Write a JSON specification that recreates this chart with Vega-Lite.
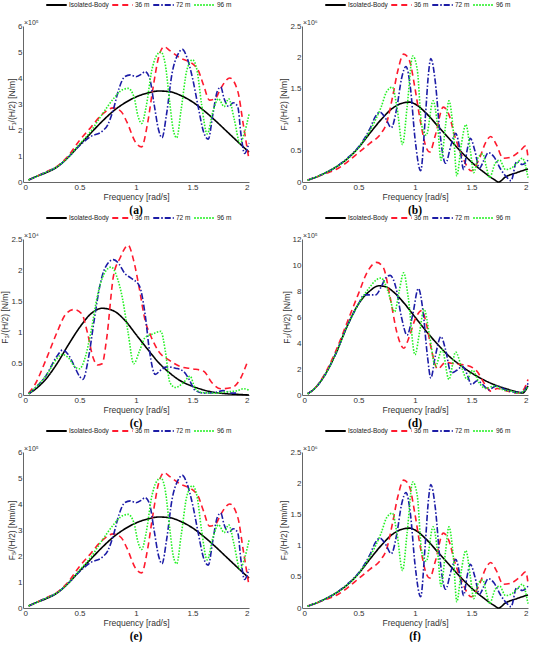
{
  "$schema": "https://vega.github.io/schema/vega-lite/v6.json",
  "padding": {"left": 0, "top": 0, "right": 0, "bottom": 0},
  "background": "white",
  "config": {
    "view": {"stroke": null},
    "font": "Liberation Sans",
    "axis": {"labelFontSize": 8, "titleFontSize": 8.5, "labelColor": "#333", "titleColor": "#333", "domainColor": "#666", "tickColor": "#666", "tickSize": 0, "grid": false, "titleFontWeight": "normal", "labelPadding": 1, "titlePadding": 1, "labelOverlap": false, "tickCount": 12},
    "legend": {"orient": "none", "legendX": 22, "legendY": -26, "direction": "horizontal", "labelFontSize": 6.5, "symbolType": "stroke", "symbolSize": 420, "symbolStrokeWidth": 1.8, "labelOffset": 1, "columnPadding": 2, "labelColor": "#222", "clipHeight": 10},
    "title": {"font": "Liberation Serif", "fontSize": 11.5, "fontWeight": "bold", "offset": 0, "color": "#000"}
  },
  "datasets": {
    "a": [
      {"s":"Isolated-Body","f":0.05,"v":0.08},{"s":"Isolated-Body","f":0.1,"v":0.18},{"s":"Isolated-Body","f":0.2,"v":0.35},{"s":"Isolated-Body","f":0.3,"v":0.57},{"s":"Isolated-Body","f":0.4,"v":0.95},{"s":"Isolated-Body","f":0.5,"v":1.42},{"s":"Isolated-Body","f":0.6,"v":1.88},{"s":"Isolated-Body","f":0.7,"v":2.33},{"s":"Isolated-Body","f":0.8,"v":2.73},{"s":"Isolated-Body","f":0.9,"v":3.04},{"s":"Isolated-Body","f":1.0,"v":3.27},{"s":"Isolated-Body","f":1.1,"v":3.42},{"s":"Isolated-Body","f":1.2,"v":3.5},{"s":"Isolated-Body","f":1.3,"v":3.47},{"s":"Isolated-Body","f":1.4,"v":3.32},{"s":"Isolated-Body","f":1.5,"v":3.08},{"s":"Isolated-Body","f":1.6,"v":2.75},{"s":"Isolated-Body","f":1.7,"v":2.37},{"s":"Isolated-Body","f":1.8,"v":1.96},{"s":"Isolated-Body","f":1.9,"v":1.55},{"s":"Isolated-Body","f":2.0,"v":1.15},
      {"s":"36 m","f":0.05,"v":0.08},{"s":"36 m","f":0.2,"v":0.38},{"s":"36 m","f":0.3,"v":0.6},{"s":"36 m","f":0.4,"v":1.0},{"s":"36 m","f":0.5,"v":1.6},{"s":"36 m","f":0.6,"v":2.1},{"s":"36 m","f":0.7,"v":2.6},{"s":"36 m","f":0.8,"v":2.85},{"s":"36 m","f":0.87,"v":2.7},{"s":"36 m","f":0.92,"v":2.3},{"s":"36 m","f":1.0,"v":1.5},{"s":"36 m","f":1.05,"v":1.35},{"s":"36 m","f":1.1,"v":2.2},{"s":"36 m","f":1.15,"v":3.6},{"s":"36 m","f":1.2,"v":4.8},{"s":"36 m","f":1.25,"v":5.2},{"s":"36 m","f":1.3,"v":5.05},{"s":"36 m","f":1.4,"v":4.75},{"s":"36 m","f":1.5,"v":4.55},{"s":"36 m","f":1.55,"v":4.3},{"s":"36 m","f":1.6,"v":3.7},{"s":"36 m","f":1.65,"v":3.15},{"s":"36 m","f":1.7,"v":3.2},{"s":"36 m","f":1.75,"v":3.6},{"s":"36 m","f":1.83,"v":4.0},{"s":"36 m","f":1.9,"v":3.5},{"s":"36 m","f":1.95,"v":2.2},{"s":"36 m","f":2.0,"v":0.85},
      {"s":"72 m","f":0.05,"v":0.08},{"s":"72 m","f":0.2,"v":0.37},{"s":"72 m","f":0.3,"v":0.58},{"s":"72 m","f":0.4,"v":0.95},{"s":"72 m","f":0.5,"v":1.4},{"s":"72 m","f":0.6,"v":1.75},{"s":"72 m","f":0.7,"v":1.95},{"s":"72 m","f":0.75,"v":2.2},{"s":"72 m","f":0.8,"v":2.8},{"s":"72 m","f":0.85,"v":3.6},{"s":"72 m","f":0.9,"v":4.05},{"s":"72 m","f":0.95,"v":4.12},{"s":"72 m","f":1.0,"v":4.05},{"s":"72 m","f":1.05,"v":4.15},{"s":"72 m","f":1.08,"v":4.25},{"s":"72 m","f":1.12,"v":4.0},{"s":"72 m","f":1.16,"v":3.0},{"s":"72 m","f":1.2,"v":2.0},{"s":"72 m","f":1.23,"v":1.7},{"s":"72 m","f":1.27,"v":2.6},{"s":"72 m","f":1.32,"v":4.2},{"s":"72 m","f":1.37,"v":4.9},{"s":"72 m","f":1.41,"v":5.1},{"s":"72 m","f":1.45,"v":4.8},{"s":"72 m","f":1.5,"v":4.0},{"s":"72 m","f":1.55,"v":2.9},{"s":"72 m","f":1.6,"v":1.9},{"s":"72 m","f":1.64,"v":1.65},{"s":"72 m","f":1.68,"v":2.6},{"s":"72 m","f":1.72,"v":3.5},{"s":"72 m","f":1.75,"v":3.65},{"s":"72 m","f":1.78,"v":3.2},{"s":"72 m","f":1.82,"v":2.9},{"s":"72 m","f":1.86,"v":3.05},{"s":"72 m","f":1.9,"v":2.9},{"s":"72 m","f":1.93,"v":1.8},{"s":"72 m","f":1.96,"v":1.1},{"s":"72 m","f":2.0,"v":1.5},
      {"s":"96 m","f":0.05,"v":0.08},{"s":"96 m","f":0.2,"v":0.37},{"s":"96 m","f":0.3,"v":0.58},{"s":"96 m","f":0.4,"v":0.95},{"s":"96 m","f":0.5,"v":1.45},{"s":"96 m","f":0.6,"v":1.95},{"s":"96 m","f":0.7,"v":2.6},{"s":"96 m","f":0.8,"v":3.2},{"s":"96 m","f":0.88,"v":3.55},{"s":"96 m","f":0.93,"v":3.6},{"s":"96 m","f":0.98,"v":3.3},{"s":"96 m","f":1.02,"v":2.5},{"s":"96 m","f":1.05,"v":2.25},{"s":"96 m","f":1.09,"v":2.9},{"s":"96 m","f":1.14,"v":4.3},{"s":"96 m","f":1.18,"v":4.85},{"s":"96 m","f":1.22,"v":5.0},{"s":"96 m","f":1.26,"v":4.5},{"s":"96 m","f":1.3,"v":3.0},{"s":"96 m","f":1.33,"v":2.0},{"s":"96 m","f":1.36,"v":1.7},{"s":"96 m","f":1.4,"v":2.8},{"s":"96 m","f":1.45,"v":4.3},{"s":"96 m","f":1.5,"v":4.7},{"s":"96 m","f":1.54,"v":4.3},{"s":"96 m","f":1.58,"v":3.0},{"s":"96 m","f":1.63,"v":1.85},{"s":"96 m","f":1.68,"v":2.7},{"s":"96 m","f":1.73,"v":3.2},{"s":"96 m","f":1.78,"v":2.9},{"s":"96 m","f":1.82,"v":3.2},{"s":"96 m","f":1.87,"v":2.4},{"s":"96 m","f":1.92,"v":1.5},{"s":"96 m","f":1.96,"v":1.9},{"s":"96 m","f":2.0,"v":2.6}
    ],
    "b": [
      {"s":"Isolated-Body","f":0.05,"v":0.03},{"s":"Isolated-Body","f":0.1,"v":0.06},{"s":"Isolated-Body","f":0.2,"v":0.14},{"s":"Isolated-Body","f":0.3,"v":0.24},{"s":"Isolated-Body","f":0.4,"v":0.37},{"s":"Isolated-Body","f":0.5,"v":0.55},{"s":"Isolated-Body","f":0.6,"v":0.78},{"s":"Isolated-Body","f":0.7,"v":1.0},{"s":"Isolated-Body","f":0.8,"v":1.18},{"s":"Isolated-Body","f":0.9,"v":1.27},{"s":"Isolated-Body","f":0.95,"v":1.28},{"s":"Isolated-Body","f":1.0,"v":1.25},{"s":"Isolated-Body","f":1.1,"v":1.1},{"s":"Isolated-Body","f":1.2,"v":0.9},{"s":"Isolated-Body","f":1.3,"v":0.7},{"s":"Isolated-Body","f":1.4,"v":0.5},{"s":"Isolated-Body","f":1.5,"v":0.32},{"s":"Isolated-Body","f":1.6,"v":0.17},{"s":"Isolated-Body","f":1.7,"v":0.04},{"s":"Isolated-Body","f":1.74,"v":0.0},{"s":"Isolated-Body","f":1.8,"v":0.08},{"s":"Isolated-Body","f":1.9,"v":0.15},{"s":"Isolated-Body","f":2.0,"v":0.21},
      {"s":"36 m","f":0.05,"v":0.03},{"s":"36 m","f":0.2,"v":0.13},{"s":"36 m","f":0.3,"v":0.2},{"s":"36 m","f":0.4,"v":0.32},{"s":"36 m","f":0.5,"v":0.47},{"s":"36 m","f":0.6,"v":0.62},{"s":"36 m","f":0.7,"v":0.78},{"s":"36 m","f":0.75,"v":0.95},{"s":"36 m","f":0.8,"v":1.35},{"s":"36 m","f":0.85,"v":1.8},{"s":"36 m","f":0.9,"v":2.05},{"s":"36 m","f":0.95,"v":1.95},{"s":"36 m","f":1.0,"v":1.5},{"s":"36 m","f":1.05,"v":0.95},{"s":"36 m","f":1.1,"v":0.55},{"s":"36 m","f":1.13,"v":0.48},{"s":"36 m","f":1.18,"v":0.75},{"s":"36 m","f":1.25,"v":1.2},{"s":"36 m","f":1.3,"v":1.08},{"s":"36 m","f":1.35,"v":0.75},{"s":"36 m","f":1.42,"v":0.4},{"s":"36 m","f":1.5,"v":0.18},{"s":"36 m","f":1.57,"v":0.38},{"s":"36 m","f":1.63,"v":0.65},{"s":"36 m","f":1.67,"v":0.73},{"s":"36 m","f":1.72,"v":0.6},{"s":"36 m","f":1.78,"v":0.38},{"s":"36 m","f":1.85,"v":0.4},{"s":"36 m","f":1.93,"v":0.5},{"s":"36 m","f":1.98,"v":0.58},{"s":"36 m","f":2.0,"v":0.4},
      {"s":"72 m","f":0.05,"v":0.03},{"s":"72 m","f":0.2,"v":0.14},{"s":"72 m","f":0.3,"v":0.24},{"s":"72 m","f":0.4,"v":0.38},{"s":"72 m","f":0.5,"v":0.56},{"s":"72 m","f":0.6,"v":0.85},{"s":"72 m","f":0.65,"v":1.05},{"s":"72 m","f":0.69,"v":1.12},{"s":"72 m","f":0.74,"v":1.02},{"s":"72 m","f":0.79,"v":0.87},{"s":"72 m","f":0.84,"v":1.2},{"s":"72 m","f":0.88,"v":1.65},{"s":"72 m","f":0.92,"v":1.85},{"s":"72 m","f":0.96,"v":1.5},{"s":"72 m","f":1.0,"v":0.7},{"s":"72 m","f":1.05,"v":0.18},{"s":"72 m","f":1.09,"v":1.0},{"s":"72 m","f":1.12,"v":1.75},{"s":"72 m","f":1.14,"v":1.98},{"s":"72 m","f":1.18,"v":1.6},{"s":"72 m","f":1.22,"v":0.8},{"s":"72 m","f":1.27,"v":0.3},{"s":"72 m","f":1.32,"v":0.6},{"s":"72 m","f":1.36,"v":0.78},{"s":"72 m","f":1.4,"v":0.5},{"s":"72 m","f":1.43,"v":0.2},{"s":"72 m","f":1.46,"v":0.5},{"s":"72 m","f":1.49,"v":0.7},{"s":"72 m","f":1.53,"v":0.5},{"s":"72 m","f":1.57,"v":0.22},{"s":"72 m","f":1.61,"v":0.35},{"s":"72 m","f":1.65,"v":0.47},{"s":"72 m","f":1.7,"v":0.4},{"s":"72 m","f":1.76,"v":0.2},{"s":"72 m","f":1.81,"v":0.08},{"s":"72 m","f":1.85,"v":0.02},{"s":"72 m","f":1.9,"v":0.33},{"s":"72 m","f":1.95,"v":0.28},{"s":"72 m","f":2.0,"v":0.35},
      {"s":"96 m","f":0.05,"v":0.03},{"s":"96 m","f":0.2,"v":0.14},{"s":"96 m","f":0.3,"v":0.24},{"s":"96 m","f":0.4,"v":0.37},{"s":"96 m","f":0.5,"v":0.55},{"s":"96 m","f":0.6,"v":0.82},{"s":"96 m","f":0.7,"v":1.2},{"s":"96 m","f":0.75,"v":1.45},{"s":"96 m","f":0.8,"v":1.52},{"s":"96 m","f":0.84,"v":1.2},{"s":"96 m","f":0.89,"v":0.6},{"s":"96 m","f":0.93,"v":1.2},{"s":"96 m","f":0.98,"v":2.02},{"s":"96 m","f":1.02,"v":1.8},{"s":"96 m","f":1.06,"v":0.9},{"s":"96 m","f":1.1,"v":0.75},{"s":"96 m","f":1.16,"v":1.3},{"s":"96 m","f":1.2,"v":0.9},{"s":"96 m","f":1.23,"v":0.35},{"s":"96 m","f":1.27,"v":0.9},{"s":"96 m","f":1.3,"v":1.3},{"s":"96 m","f":1.34,"v":0.8},{"s":"96 m","f":1.37,"v":0.1},{"s":"96 m","f":1.41,"v":0.6},{"s":"96 m","f":1.45,"v":0.92},{"s":"96 m","f":1.49,"v":0.5},{"s":"96 m","f":1.52,"v":0.15},{"s":"96 m","f":1.56,"v":0.4},{"s":"96 m","f":1.6,"v":0.45},{"s":"96 m","f":1.63,"v":0.25},{"s":"96 m","f":1.66,"v":0.07},{"s":"96 m","f":1.71,"v":0.3},{"s":"96 m","f":1.75,"v":0.35},{"s":"96 m","f":1.8,"v":0.2},{"s":"96 m","f":1.85,"v":0.22},{"s":"96 m","f":1.9,"v":0.3},{"s":"96 m","f":1.95,"v":0.38},{"s":"96 m","f":2.0,"v":0.07}
    ],
    "c": [
      {"s":"Isolated-Body","f":0.05,"v":0.02},{"s":"Isolated-Body","f":0.1,"v":0.08},{"s":"Isolated-Body","f":0.2,"v":0.25},{"s":"Isolated-Body","f":0.3,"v":0.5},{"s":"Isolated-Body","f":0.4,"v":0.8},{"s":"Isolated-Body","f":0.5,"v":1.08},{"s":"Isolated-Body","f":0.6,"v":1.3},{"s":"Isolated-Body","f":0.7,"v":1.39},{"s":"Isolated-Body","f":0.8,"v":1.35},{"s":"Isolated-Body","f":0.9,"v":1.2},{"s":"Isolated-Body","f":1.0,"v":0.97},{"s":"Isolated-Body","f":1.1,"v":0.74},{"s":"Isolated-Body","f":1.2,"v":0.52},{"s":"Isolated-Body","f":1.3,"v":0.35},{"s":"Isolated-Body","f":1.4,"v":0.22},{"s":"Isolated-Body","f":1.5,"v":0.14},{"s":"Isolated-Body","f":1.6,"v":0.08},{"s":"Isolated-Body","f":1.7,"v":0.04},{"s":"Isolated-Body","f":1.8,"v":0.02},{"s":"Isolated-Body","f":1.9,"v":0.01},{"s":"Isolated-Body","f":2.0,"v":0.0},
      {"s":"36 m","f":0.05,"v":0.03},{"s":"36 m","f":0.1,"v":0.15},{"s":"36 m","f":0.2,"v":0.55},{"s":"36 m","f":0.3,"v":1.0},{"s":"36 m","f":0.38,"v":1.3},{"s":"36 m","f":0.45,"v":1.37},{"s":"36 m","f":0.52,"v":1.3},{"s":"36 m","f":0.57,"v":1.0},{"s":"36 m","f":0.62,"v":0.6},{"s":"36 m","f":0.66,"v":0.48},{"s":"36 m","f":0.7,"v":0.5},{"s":"36 m","f":0.74,"v":0.9},{"s":"36 m","f":0.8,"v":1.9},{"s":"36 m","f":0.86,"v":2.2},{"s":"36 m","f":0.93,"v":2.4},{"s":"36 m","f":0.98,"v":2.15},{"s":"36 m","f":1.03,"v":1.7},{"s":"36 m","f":1.08,"v":1.2},{"s":"36 m","f":1.13,"v":0.95},{"s":"36 m","f":1.2,"v":0.7},{"s":"36 m","f":1.3,"v":0.55},{"s":"36 m","f":1.4,"v":0.45},{"s":"36 m","f":1.5,"v":0.42},{"s":"36 m","f":1.6,"v":0.38},{"s":"36 m","f":1.67,"v":0.2},{"s":"36 m","f":1.75,"v":0.1},{"s":"36 m","f":1.85,"v":0.12},{"s":"36 m","f":1.92,"v":0.25},{"s":"36 m","f":1.98,"v":0.5},
      {"s":"72 m","f":0.05,"v":0.02},{"s":"72 m","f":0.1,"v":0.1},{"s":"72 m","f":0.2,"v":0.3},{"s":"72 m","f":0.3,"v":0.62},{"s":"72 m","f":0.35,"v":0.72},{"s":"72 m","f":0.4,"v":0.65},{"s":"72 m","f":0.45,"v":0.48},{"s":"72 m","f":0.5,"v":0.3},{"s":"72 m","f":0.53,"v":0.25},{"s":"72 m","f":0.58,"v":0.6},{"s":"72 m","f":0.63,"v":1.2},{"s":"72 m","f":0.68,"v":1.75},{"s":"72 m","f":0.73,"v":2.05},{"s":"72 m","f":0.8,"v":2.17},{"s":"72 m","f":0.85,"v":2.1},{"s":"72 m","f":0.9,"v":1.95},{"s":"72 m","f":0.95,"v":1.88},{"s":"72 m","f":1.03,"v":1.75},{"s":"72 m","f":1.08,"v":1.3},{"s":"72 m","f":1.12,"v":0.7},{"s":"72 m","f":1.17,"v":0.33},{"s":"72 m","f":1.22,"v":0.4},{"s":"72 m","f":1.27,"v":0.45},{"s":"72 m","f":1.35,"v":0.43},{"s":"72 m","f":1.42,"v":0.38},{"s":"72 m","f":1.47,"v":0.25},{"s":"72 m","f":1.52,"v":0.08},{"s":"72 m","f":1.6,"v":0.03},{"s":"72 m","f":1.7,"v":0.04},{"s":"72 m","f":1.77,"v":0.07},{"s":"72 m","f":1.85,"v":0.03},{"s":"72 m","f":1.9,"v":0.03},
      {"s":"96 m","f":0.05,"v":0.02},{"s":"96 m","f":0.1,"v":0.1},{"s":"96 m","f":0.2,"v":0.3},{"s":"96 m","f":0.3,"v":0.58},{"s":"96 m","f":0.34,"v":0.65},{"s":"96 m","f":0.4,"v":0.6},{"s":"96 m","f":0.46,"v":0.45},{"s":"96 m","f":0.5,"v":0.42},{"s":"96 m","f":0.55,"v":0.6},{"s":"96 m","f":0.6,"v":1.0},{"s":"96 m","f":0.66,"v":1.6},{"s":"96 m","f":0.72,"v":1.95},{"s":"96 m","f":0.78,"v":2.05},{"s":"96 m","f":0.83,"v":1.9},{"s":"96 m","f":0.88,"v":1.55},{"s":"96 m","f":0.93,"v":1.0},{"s":"96 m","f":0.98,"v":0.5},{"s":"96 m","f":1.03,"v":0.7},{"s":"96 m","f":1.08,"v":0.92},{"s":"96 m","f":1.15,"v":0.98},{"s":"96 m","f":1.22,"v":1.02},{"s":"96 m","f":1.26,"v":0.7},{"s":"96 m","f":1.3,"v":0.2},{"s":"96 m","f":1.35,"v":0.12},{"s":"96 m","f":1.42,"v":0.2},{"s":"96 m","f":1.48,"v":0.3},{"s":"96 m","f":1.52,"v":0.12},{"s":"96 m","f":1.58,"v":0.04},{"s":"96 m","f":1.7,"v":0.03},{"s":"96 m","f":1.8,"v":0.05},{"s":"96 m","f":1.9,"v":0.07},{"s":"96 m","f":1.95,"v":0.1},{"s":"96 m","f":2.0,"v":0.08}
    ],
    "d": [
      {"s":"Isolated-Body","f":0.05,"v":0.1},{"s":"Isolated-Body","f":0.1,"v":0.4},{"s":"Isolated-Body","f":0.2,"v":1.5},{"s":"Isolated-Body","f":0.3,"v":3.2},{"s":"Isolated-Body","f":0.4,"v":5.3},{"s":"Isolated-Body","f":0.5,"v":7.0},{"s":"Isolated-Body","f":0.6,"v":8.0},{"s":"Isolated-Body","f":0.68,"v":8.4},{"s":"Isolated-Body","f":0.75,"v":8.3},{"s":"Isolated-Body","f":0.8,"v":8.0},{"s":"Isolated-Body","f":0.9,"v":7.1},{"s":"Isolated-Body","f":1.0,"v":6.0},{"s":"Isolated-Body","f":1.1,"v":4.9},{"s":"Isolated-Body","f":1.2,"v":3.9},{"s":"Isolated-Body","f":1.3,"v":3.0},{"s":"Isolated-Body","f":1.4,"v":2.3},{"s":"Isolated-Body","f":1.5,"v":1.7},{"s":"Isolated-Body","f":1.6,"v":1.2},{"s":"Isolated-Body","f":1.7,"v":0.8},{"s":"Isolated-Body","f":1.8,"v":0.5},{"s":"Isolated-Body","f":1.9,"v":0.25},{"s":"Isolated-Body","f":1.95,"v":0.15},{"s":"Isolated-Body","f":2.0,"v":0.7},
      {"s":"36 m","f":0.05,"v":0.1},{"s":"36 m","f":0.1,"v":0.4},{"s":"36 m","f":0.2,"v":1.6},{"s":"36 m","f":0.3,"v":3.4},{"s":"36 m","f":0.4,"v":5.6},{"s":"36 m","f":0.5,"v":7.8},{"s":"36 m","f":0.58,"v":9.5},{"s":"36 m","f":0.66,"v":10.2},{"s":"36 m","f":0.72,"v":9.8},{"s":"36 m","f":0.78,"v":7.5},{"s":"36 m","f":0.84,"v":4.8},{"s":"36 m","f":0.9,"v":3.6},{"s":"36 m","f":0.95,"v":4.5},{"s":"36 m","f":1.0,"v":5.8},{"s":"36 m","f":1.06,"v":6.5},{"s":"36 m","f":1.1,"v":5.5},{"s":"36 m","f":1.15,"v":3.3},{"s":"36 m","f":1.2,"v":2.0},{"s":"36 m","f":1.27,"v":2.5},{"s":"36 m","f":1.35,"v":2.4},{"s":"36 m","f":1.45,"v":2.3},{"s":"36 m","f":1.55,"v":1.8},{"s":"36 m","f":1.62,"v":0.8},{"s":"36 m","f":1.67,"v":0.3},{"s":"36 m","f":1.73,"v":0.5},{"s":"36 m","f":1.8,"v":0.35},{"s":"36 m","f":1.9,"v":0.15},{"s":"36 m","f":1.95,"v":0.3},{"s":"36 m","f":2.0,"v":1.2},
      {"s":"72 m","f":0.05,"v":0.1},{"s":"72 m","f":0.1,"v":0.4},{"s":"72 m","f":0.2,"v":1.5},{"s":"72 m","f":0.3,"v":3.2},{"s":"72 m","f":0.4,"v":5.3},{"s":"72 m","f":0.5,"v":7.0},{"s":"72 m","f":0.55,"v":7.7},{"s":"72 m","f":0.6,"v":7.7},{"s":"72 m","f":0.65,"v":7.7},{"s":"72 m","f":0.7,"v":8.3},{"s":"72 m","f":0.74,"v":9.0},{"s":"72 m","f":0.78,"v":9.2},{"s":"72 m","f":0.83,"v":8.3},{"s":"72 m","f":0.88,"v":6.0},{"s":"72 m","f":0.93,"v":4.6},{"s":"72 m","f":0.98,"v":6.2},{"s":"72 m","f":1.03,"v":8.2},{"s":"72 m","f":1.07,"v":6.5},{"s":"72 m","f":1.11,"v":3.0},{"s":"72 m","f":1.14,"v":1.3},{"s":"72 m","f":1.18,"v":3.0},{"s":"72 m","f":1.23,"v":4.5},{"s":"72 m","f":1.27,"v":3.5},{"s":"72 m","f":1.32,"v":1.7},{"s":"72 m","f":1.37,"v":1.9},{"s":"72 m","f":1.42,"v":2.2},{"s":"72 m","f":1.46,"v":1.6},{"s":"72 m","f":1.5,"v":0.8},{"s":"72 m","f":1.55,"v":1.1},{"s":"72 m","f":1.6,"v":0.8},{"s":"72 m","f":1.65,"v":0.4},{"s":"72 m","f":1.72,"v":0.7},{"s":"72 m","f":1.8,"v":0.4},{"s":"72 m","f":1.9,"v":0.2},{"s":"72 m","f":1.95,"v":0.2},{"s":"72 m","f":2.0,"v":0.9},
      {"s":"96 m","f":0.05,"v":0.1},{"s":"96 m","f":0.1,"v":0.4},{"s":"96 m","f":0.2,"v":1.5},{"s":"96 m","f":0.3,"v":3.2},{"s":"96 m","f":0.4,"v":5.3},{"s":"96 m","f":0.5,"v":7.0},{"s":"96 m","f":0.6,"v":8.3},{"s":"96 m","f":0.65,"v":8.8},{"s":"96 m","f":0.7,"v":9.0},{"s":"96 m","f":0.76,"v":8.0},{"s":"96 m","f":0.82,"v":6.4},{"s":"96 m","f":0.86,"v":8.0},{"s":"96 m","f":0.9,"v":9.4},{"s":"96 m","f":0.94,"v":7.5},{"s":"96 m","f":1.0,"v":3.1},{"s":"96 m","f":1.04,"v":4.8},{"s":"96 m","f":1.08,"v":6.6},{"s":"96 m","f":1.13,"v":4.5},{"s":"96 m","f":1.18,"v":2.2},{"s":"96 m","f":1.24,"v":3.5},{"s":"96 m","f":1.3,"v":1.2},{"s":"96 m","f":1.36,"v":3.3},{"s":"96 m","f":1.41,"v":2.2},{"s":"96 m","f":1.46,"v":1.2},{"s":"96 m","f":1.51,"v":1.9},{"s":"96 m","f":1.57,"v":0.9},{"s":"96 m","f":1.63,"v":0.5},{"s":"96 m","f":1.7,"v":0.7},{"s":"96 m","f":1.78,"v":0.4},{"s":"96 m","f":1.85,"v":0.3},{"s":"96 m","f":1.92,"v":0.15},{"s":"96 m","f":2.0,"v":0.6}
    ]
  },
  "columns": 2,
  "spacing": {"row": -3, "column": 26},
  "resolve": {
    "scale": {"x": "independent", "y": "independent", "color": "independent", "strokeDash": "independent"},
    "legend": {"color": "independent", "strokeDash": "independent"}
  },
  "concat": [
    {
      "width": 226, "height": 156,
      "title": {"text": "(a)", "orient": "bottom"},
      "layer": [
        {"data": {"name": "a"},
         "mark": {"type": "line", "interpolate": "monotone", "strokeWidth": 1.6},
         "encoding": {
           "x": {"field": "f", "type": "quantitative", "scale": {"domain": [0, 2], "nice": false}, "axis": {"values": [0, 0.5, 1, 1.5, 2], "tickCount": 12, "format": "~g", "title": "Frequency [rad/s]"}},
           "y": {"field": "v", "type": "quantitative", "scale": {"domain": [0, 6], "nice": false}, "axis": {"values": [0, 1, 2, 3, 4, 5, 6], "tickCount": 12, "format": "~g", "title": "F₁/(H/2) [N/m]"}},
           "color": {"field": "s", "type": "nominal", "scale": {"domain": ["Isolated-Body", "36 m", "72 m", "96 m"], "range": ["#000000", "#ff1a2e", "#1c1ca6", "#22f022"]}, "legend": {"title": null}},
           "strokeDash": {"field": "s", "type": "nominal", "scale": {"domain": ["Isolated-Body", "36 m", "72 m", "96 m"], "range": [[1, 0], [6, 4], [6, 2, 1.5, 2], [1.5, 1.5]]}, "legend": {"title": null}}
         }},
        {"data": {"values": [{"f": 0, "v": 6, "t": "×10⁵"}]},
         "mark": {"type": "text", "align": "left", "baseline": "bottom", "dx": 1, "fontSize": 7, "color": "#333"},
         "encoding": {"x": {"field": "f", "type": "quantitative"}, "y": {"field": "v", "type": "quantitative"}, "text": {"field": "t"}}}
      ]
    },
    {
      "width": 226, "height": 156,
      "title": {"text": "(b)", "orient": "bottom"},
      "layer": [
        {"data": {"name": "b"},
         "mark": {"type": "line", "interpolate": "monotone", "strokeWidth": 1.6},
         "encoding": {
           "x": {"field": "f", "type": "quantitative", "scale": {"domain": [0, 2], "nice": false}, "axis": {"values": [0, 0.5, 1, 1.5, 2], "tickCount": 12, "format": "~g", "title": "Frequency [rad/s]"}},
           "y": {"field": "v", "type": "quantitative", "scale": {"domain": [0, 2.5], "nice": false}, "axis": {"values": [0, 0.5, 1, 1.5, 2, 2.5], "tickCount": 12, "format": "~g", "title": "F₁/(H/2) [N/m]"}},
           "color": {"field": "s", "type": "nominal", "scale": {"domain": ["Isolated-Body", "36 m", "72 m", "96 m"], "range": ["#000000", "#ff1a2e", "#1c1ca6", "#22f022"]}, "legend": {"title": null}},
           "strokeDash": {"field": "s", "type": "nominal", "scale": {"domain": ["Isolated-Body", "36 m", "72 m", "96 m"], "range": [[1, 0], [6, 4], [6, 2, 1.5, 2], [1.5, 1.5]]}, "legend": {"title": null}}
         }},
        {"data": {"values": [{"f": 0, "v": 2.5, "t": "×10⁶"}]},
         "mark": {"type": "text", "align": "left", "baseline": "bottom", "dx": 1, "fontSize": 7, "color": "#333"},
         "encoding": {"x": {"field": "f", "type": "quantitative"}, "y": {"field": "v", "type": "quantitative"}, "text": {"field": "t"}}}
      ]
    },
    {
      "width": 226, "height": 156,
      "title": {"text": "(c)", "orient": "bottom"},
      "layer": [
        {"data": {"name": "c"},
         "mark": {"type": "line", "interpolate": "monotone", "strokeWidth": 1.6},
         "encoding": {
           "x": {"field": "f", "type": "quantitative", "scale": {"domain": [0, 2], "nice": false}, "axis": {"values": [0, 0.5, 1, 1.5, 2], "tickCount": 12, "format": "~g", "title": "Frequency [rad/s]"}},
           "y": {"field": "v", "type": "quantitative", "scale": {"domain": [0, 2.5], "nice": false}, "axis": {"values": [0, 0.5, 1, 1.5, 2, 2.5], "tickCount": 12, "format": "~g", "title": "F₃/(H/2) [N/m]"}},
           "color": {"field": "s", "type": "nominal", "scale": {"domain": ["Isolated-Body", "36 m", "72 m", "96 m"], "range": ["#000000", "#ff1a2e", "#1c1ca6", "#22f022"]}, "legend": {"title": null}},
           "strokeDash": {"field": "s", "type": "nominal", "scale": {"domain": ["Isolated-Body", "36 m", "72 m", "96 m"], "range": [[1, 0], [6, 4], [6, 2, 1.5, 2], [1.5, 1.5]]}, "legend": {"title": null}}
         }},
        {"data": {"values": [{"f": 0, "v": 2.5, "t": "×10⁴"}]},
         "mark": {"type": "text", "align": "left", "baseline": "bottom", "dx": 1, "fontSize": 7, "color": "#333"},
         "encoding": {"x": {"field": "f", "type": "quantitative"}, "y": {"field": "v", "type": "quantitative"}, "text": {"field": "t"}}}
      ]
    },
    {
      "width": 226, "height": 156,
      "title": {"text": "(d)", "orient": "bottom"},
      "layer": [
        {"data": {"name": "d"},
         "mark": {"type": "line", "interpolate": "monotone", "strokeWidth": 1.6},
         "encoding": {
           "x": {"field": "f", "type": "quantitative", "scale": {"domain": [0, 2], "nice": false}, "axis": {"values": [0, 0.5, 1, 1.5, 2], "tickCount": 12, "format": "~g", "title": "Frequency [rad/s]"}},
           "y": {"field": "v", "type": "quantitative", "scale": {"domain": [0, 12], "nice": false}, "axis": {"values": [0, 2, 4, 6, 8, 10, 12], "tickCount": 12, "format": "~g", "title": "F₃/(H/2) [N/m]"}},
           "color": {"field": "s", "type": "nominal", "scale": {"domain": ["Isolated-Body", "36 m", "72 m", "96 m"], "range": ["#000000", "#ff1a2e", "#1c1ca6", "#22f022"]}, "legend": {"title": null}},
           "strokeDash": {"field": "s", "type": "nominal", "scale": {"domain": ["Isolated-Body", "36 m", "72 m", "96 m"], "range": [[1, 0], [6, 4], [6, 2, 1.5, 2], [1.5, 1.5]]}, "legend": {"title": null}}
         }},
        {"data": {"values": [{"f": 0, "v": 12, "t": "×10⁵"}]},
         "mark": {"type": "text", "align": "left", "baseline": "bottom", "dx": 1, "fontSize": 7, "color": "#333"},
         "encoding": {"x": {"field": "f", "type": "quantitative"}, "y": {"field": "v", "type": "quantitative"}, "text": {"field": "t"}}}
      ]
    },
    {
      "width": 226, "height": 156,
      "title": {"text": "(e)", "orient": "bottom"},
      "layer": [
        {"data": {"name": "a"},
         "mark": {"type": "line", "interpolate": "monotone", "strokeWidth": 1.6},
         "encoding": {
           "x": {"field": "f", "type": "quantitative", "scale": {"domain": [0, 2], "nice": false}, "axis": {"values": [0, 0.5, 1, 1.5, 2], "tickCount": 12, "format": "~g", "title": "Frequency [rad/s]"}},
           "y": {"field": "v", "type": "quantitative", "scale": {"domain": [0, 6], "nice": false}, "axis": {"values": [0, 1, 2, 3, 4, 5, 6], "tickCount": 12, "format": "~g", "title": "F₅/(H/2) [Nm/m]"}},
           "color": {"field": "s", "type": "nominal", "scale": {"domain": ["Isolated-Body", "36 m", "72 m", "96 m"], "range": ["#000000", "#ff1a2e", "#1c1ca6", "#22f022"]}, "legend": {"title": null}},
           "strokeDash": {"field": "s", "type": "nominal", "scale": {"domain": ["Isolated-Body", "36 m", "72 m", "96 m"], "range": [[1, 0], [6, 4], [6, 2, 1.5, 2], [1.5, 1.5]]}, "legend": {"title": null}}
         }},
        {"data": {"values": [{"f": 0, "v": 6, "t": "×10⁵"}]},
         "mark": {"type": "text", "align": "left", "baseline": "bottom", "dx": 1, "fontSize": 7, "color": "#333"},
         "encoding": {"x": {"field": "f", "type": "quantitative"}, "y": {"field": "v", "type": "quantitative"}, "text": {"field": "t"}}}
      ]
    },
    {
      "width": 226, "height": 156,
      "title": {"text": "(f)", "orient": "bottom"},
      "layer": [
        {"data": {"name": "b"},
         "mark": {"type": "line", "interpolate": "monotone", "strokeWidth": 1.6},
         "encoding": {
           "x": {"field": "f", "type": "quantitative", "scale": {"domain": [0, 2], "nice": false}, "axis": {"values": [0, 0.5, 1, 1.5, 2], "tickCount": 12, "format": "~g", "title": "Frequency [rad/s]"}},
           "y": {"field": "v", "type": "quantitative", "scale": {"domain": [0, 2.5], "nice": false}, "axis": {"values": [0, 0.5, 1, 1.5, 2, 2.5], "tickCount": 12, "format": "~g", "title": "F₅/(H/2) [Nm/m]"}},
           "color": {"field": "s", "type": "nominal", "scale": {"domain": ["Isolated-Body", "36 m", "72 m", "96 m"], "range": ["#000000", "#ff1a2e", "#1c1ca6", "#22f022"]}, "legend": {"title": null}},
           "strokeDash": {"field": "s", "type": "nominal", "scale": {"domain": ["Isolated-Body", "36 m", "72 m", "96 m"], "range": [[1, 0], [6, 4], [6, 2, 1.5, 2], [1.5, 1.5]]}, "legend": {"title": null}}
         }},
        {"data": {"values": [{"f": 0, "v": 2.5, "t": "×10⁶"}]},
         "mark": {"type": "text", "align": "left", "baseline": "bottom", "dx": 1, "fontSize": 7, "color": "#333"},
         "encoding": {"x": {"field": "f", "type": "quantitative"}, "y": {"field": "v", "type": "quantitative"}, "text": {"field": "t"}}}
      ]
    }
  ]
}
